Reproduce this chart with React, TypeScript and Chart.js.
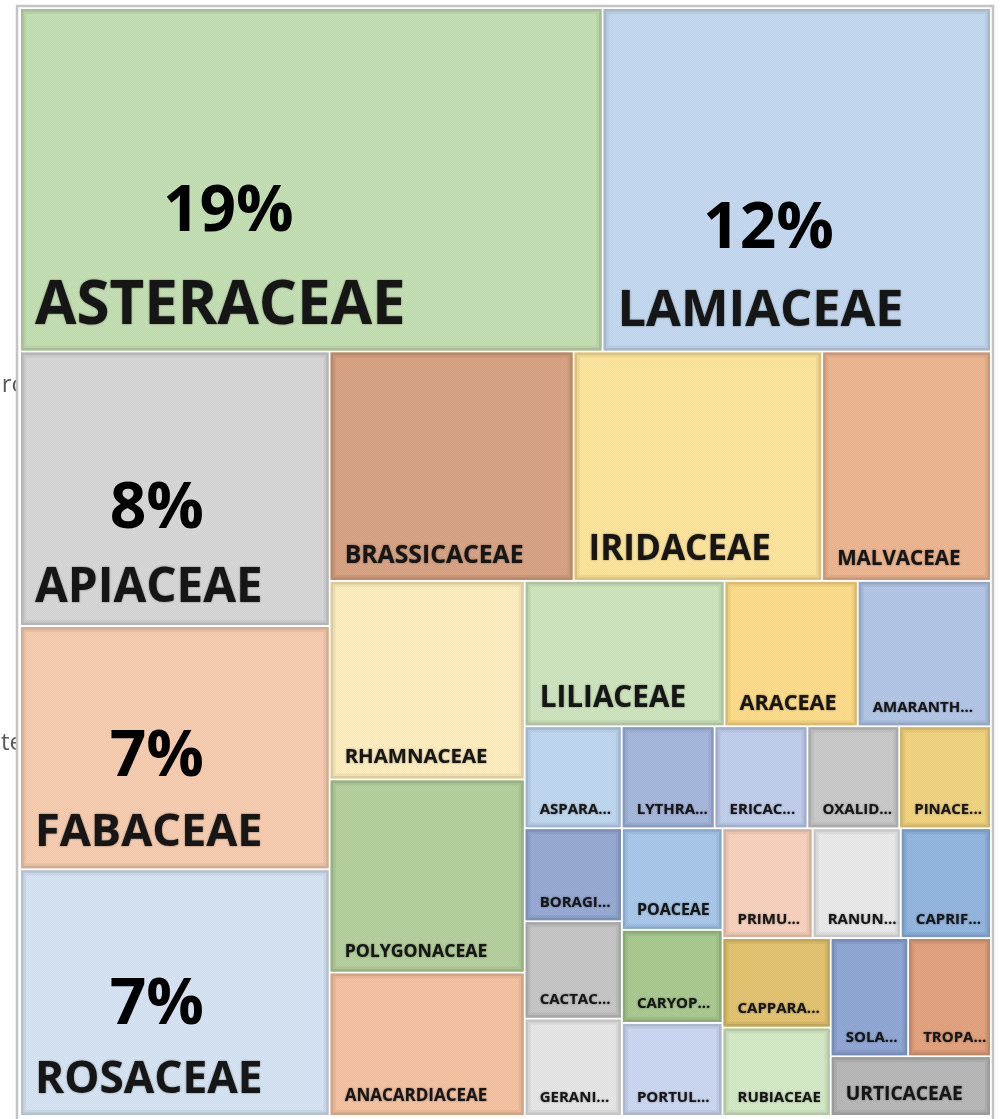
import React, { useEffect, useRef } from "react";
import { Chart, registerables } from "chart.js";

Chart.register(...registerables);

// ---------- DATA ----------
const families: string[] = [
  "ASTERACEAE", "LAMIACEAE", "APIACEAE", "FABACEAE", "ROSACEAE",
  "BRASSICACEAE", "IRIDACEAE", "MALVACEAE",
  "RHAMNACEAE", "POLYGONACEAE", "ANACARDIACEAE",
  "LILIACEAE", "ARACEAE", "AMARANTHACEAE",
  "ASPARAGACEAE", "LYTHRACEAE", "ERICACEAE", "OXALIDACEAE", "PINACEAE",
  "BORAGINACEAE", "CACTACEAE", "GERANIACEAE",
  "POACEAE", "CARYOPHYLLACEAE", "PORTULACACEAE",
  "PRIMULACEAE", "RANUNCULACEAE", "CAPRIFOLIACEAE",
  "CAPPARACEAE", "RUBIACEAE",
  "SOLANACEAE", "TROPAEOLACEAE", "URTICACEAE",
];

// share of all species (%)
const shares: number[] = [
  18.6, 12.4, 7.9, 7.0, 7.1,
  5.2, 5.3, 3.6,
  3.6, 3.5, 2.6,
  2.7, 1.8, 1.8,
  0.92, 0.88, 0.88, 0.87, 0.87,
  0.84, 0.88, 0.88,
  0.95, 0.87, 0.87,
  0.92, 0.9, 0.92,
  0.9, 0.89,
  0.85, 0.91, 0.89,
];

const fillColors: string[] = [
  "#C3DFB0", "#C2D8F0", "#D6D6D6", "#F8CBAC", "#D4E3F4",
  "#D7A07E", "#FFE496", "#EFB38C",
  "#FFEEBC", "#B2D09A", "#F6C19E",
  "#CCE4BC", "#FFDC84", "#B1C5E8",
  "#BDD7F0", "#A2B6DD", "#BECEEE", "#C8C8C8", "#F2D37A",
  "#93A8D4", "#C5C5C5", "#E6E6E6",
  "#A5C7EC", "#A6C98B", "#CAD7F2",
  "#F9D1BB", "#EAEAEA", "#8FB4E0",
  "#E3C26A", "#D3EAC4",
  "#8CA5D6", "#E29F79", "#B6B6B6",
];

// nested slice layout: "h" = side by side, "v" = stacked; numbers index the families
type LNode = number | { dir: "h" | "v"; kids: LNode[] };
const layoutTree: LNode = {
  dir: "v", kids: [
    { dir: "h", kids: [0, 1] },
    { dir: "h", kids: [
      { dir: "v", kids: [2, 3, 4] },
      { dir: "v", kids: [
        { dir: "h", kids: [5, 6, 7] },
        { dir: "h", kids: [
          { dir: "v", kids: [8, 9, 10] },
          { dir: "v", kids: [
            { dir: "h", kids: [11, 12, 13] },
            { dir: "v", kids: [
              { dir: "h", kids: [14, 15, 16, 17, 18] },
              { dir: "h", kids: [
                { dir: "v", kids: [19, 20, 21] },
                { dir: "v", kids: [22, 23, 24] },
                { dir: "v", kids: [
                  { dir: "h", kids: [25, 26, 27] },
                  { dir: "h", kids: [
                    { dir: "v", kids: [28, 29] },
                    { dir: "v", kids: [
                      { dir: "h", kids: [30, 31] },
                      32,
                    ] },
                  ] },
                ] },
              ] },
            ] },
          ] },
        ] },
      ] },
    ] },
  ],
};

const percentLabelMin = 7;
const sideFragments: string[] = ["rc", "te"];

// ---------- HELPERS ----------
function nodeTotal(n: LNode): number {
  if (typeof n === "number") return shares[n];
  return n.kids.reduce((s, k) => s + nodeTotal(k), 0);
}

type Rect = { i: number; x0: number; y0: number; x1: number; y1: number };
function sliceLayout(n: LNode, x0: number, y0: number, x1: number, y1: number, out: Rect[]) {
  if (typeof n === "number") { out.push({ i: n, x0, y0, x1, y1 }); return; }
  const tot = nodeTotal(n);
  let cur = n.dir === "h" ? x0 : y0;
  n.kids.forEach((k) => {
    const f = nodeTotal(k) / tot;
    if (n.dir === "h") {
      const nx = cur + (x1 - x0) * f;
      sliceLayout(k, cur, y0, nx, y1, out);
      cur = nx;
    } else {
      const ny = cur + (y1 - y0) * f;
      sliceLayout(k, x0, cur, x1, ny, out);
      cur = ny;
    }
  });
}

function shade(hex: string, f: number): string {
  const v = parseInt(hex.slice(1), 16);
  const r = Math.round(((v >> 16) & 255) * f);
  const g = Math.round(((v >> 8) & 255) * f);
  const b = Math.round((v & 255) * f);
  return `rgb(${r},${g},${b})`;
}

function makePattern(ctx: CanvasRenderingContext2D): CanvasPattern | null {
  const c = document.createElement("canvas");
  c.width = 4; c.height = 4;
  const p = c.getContext("2d")!;
  for (let x = 0; x < 4; x++) for (let y = 0; y < 4; y++) {
    p.fillStyle = (x + y) % 2 === 0 ? "rgba(255,255,255,0.08)" : "rgba(0,0,0,0.03)";
    p.fillRect(x, y, 1, 1);
  }
  return ctx.createPattern(c, "repeat");
}

const FONT = '"Open Sans", "DejaVu Sans", sans-serif';

function fitText(ctx: CanvasRenderingContext2D, text: string, maxW: number): string {
  if (ctx.measureText(text).width <= maxW) return text;
  for (let n = text.length - 1; n > 1; n--) {
    const t = text.slice(0, n) + "...";
    if (ctx.measureText(t).width <= maxW) return t;
  }
  return text.slice(0, 2) + "...";
}

const treemapPlugin = {
  id: "treemapCells",
  afterDraw(chart: any) {
    const { ctx, scales } = chart;
    const xs = scales.x, ys = scales.y;
    const rects: Rect[] = [];
    sliceLayout(layoutTree, 0, 0, 1, 1, rects);

    const left = xs.getPixelForValue(0), right = xs.getPixelForValue(1);
    const top = ys.getPixelForValue(0), bottom = ys.getPixelForValue(1);

    ctx.save();
    // clipped text fragments at the left edge
    ctx.fillStyle = "#595959";
    ctx.font = `24px ${FONT}`;
    ctx.textAlign = "right";
    ctx.textBaseline = "alphabetic";
    const fragY = [top + 0.347 * (bottom - top), top + 0.67 * (bottom - top)];
    sideFragments.forEach((t, k) => ctx.fillText(t, left + 3, fragY[k]));

    // outer frame
    ctx.fillStyle = "#FFFFFF";
    ctx.fillRect(left - 2, top - 2, right - left + 4, bottom - top + 4);
    ctx.strokeStyle = "#C4C4C4";
    ctx.lineWidth = 2.5;
    ctx.strokeRect(left - 3, top - 2, right - left + 5, bottom - top + 10);

    const pattern = makePattern(ctx);

    rects.forEach((r) => {
      const px0 = xs.getPixelForValue(r.x0), px1 = xs.getPixelForValue(r.x1);
      const py0 = ys.getPixelForValue(r.y0), py1 = ys.getPixelForValue(r.y1);
      const x = px0 + 1, y = py0 + 1, w = px1 - px0 - 2, h = py1 - py0 - 2;
      const col = fillColors[r.i];
      ctx.fillStyle = col;
      ctx.fillRect(x, y, w, h);
      if (pattern) { ctx.fillStyle = pattern; ctx.fillRect(x, y, w, h); }
      ctx.strokeStyle = shade(col, 0.9);
      ctx.globalAlpha = 0.6;
      ctx.lineWidth = 3;
      ctx.strokeRect(x + 3.5, y + 3.5, w - 7, h - 7);
      ctx.globalAlpha = 1;
      ctx.lineWidth = 2.5;
      ctx.strokeStyle = shade(col, 0.85);
      ctx.strokeRect(x + 1.25, y + 1.25, w - 2.5, h - 2.5);

      // label
      const name = families[r.i];
      ctx.font = `bold 100px ${FONT}`;
      const unit = ctx.measureText(name).width / 100;
      let fs = Math.min(60, (0.74 * w) / unit);
      fs = Math.max(15, fs);
      ctx.font = `bold ${fs}px ${FONT}`;
      const label = fitText(ctx, name, 0.8 * w);
      const tx = x + 14;
      const base = y + h - (0.3 * fs + 9);
      ctx.textAlign = "left";
      ctx.fillStyle = "#161616";
      ctx.shadowColor = "rgba(0,0,0,0.5)";
      ctx.shadowBlur = 2;
      ctx.fillText(label, tx, base);
      ctx.shadowBlur = 0;
      ctx.shadowColor = "transparent";

      if (shares[r.i] >= percentLabelMin) {
        const lw = ctx.measureText(label).width;
        ctx.font = `bold 64px ${FONT}`;
        ctx.textAlign = "center";
        ctx.fillStyle = "#000000";
        ctx.fillText(`${Math.round(shares[r.i])}%`, tx + lw / 2 + 8, base - 1.55 * fs);
      }
    });
    ctx.restore();
  },
};

export default function App() {
  const ref = useRef<HTMLCanvasElement | null>(null);
  useEffect(() => {
    if (!ref.current) return;
    const chart = new Chart(ref.current, {
      type: "scatter",
      data: { datasets: [{ data: [], pointRadius: 0 }] },
      options: {
        animation: false,
        responsive: false,
        maintainAspectRatio: false,
        events: [],
        layout: { padding: { left: 20, top: 8, right: 9, bottom: 3 } },
        scales: {
          x: { type: "linear", min: 0, max: 1, display: false },
          y: { type: "linear", min: 0, max: 1, reverse: true, display: false },
        },
        plugins: { legend: { display: false }, tooltip: { enabled: false }, title: { display: false } },
      },
      plugins: [treemapPlugin],
    });
    return () => chart.destroy();
  }, []);
  return (
    <div style={{ position: "fixed", left: 0, top: 0, width: 1000, height: 1119, background: "#FFFFFF" }}>
      <canvas ref={ref} width={1000} height={1119} style={{ display: "block" }} />
    </div>
  );
}
